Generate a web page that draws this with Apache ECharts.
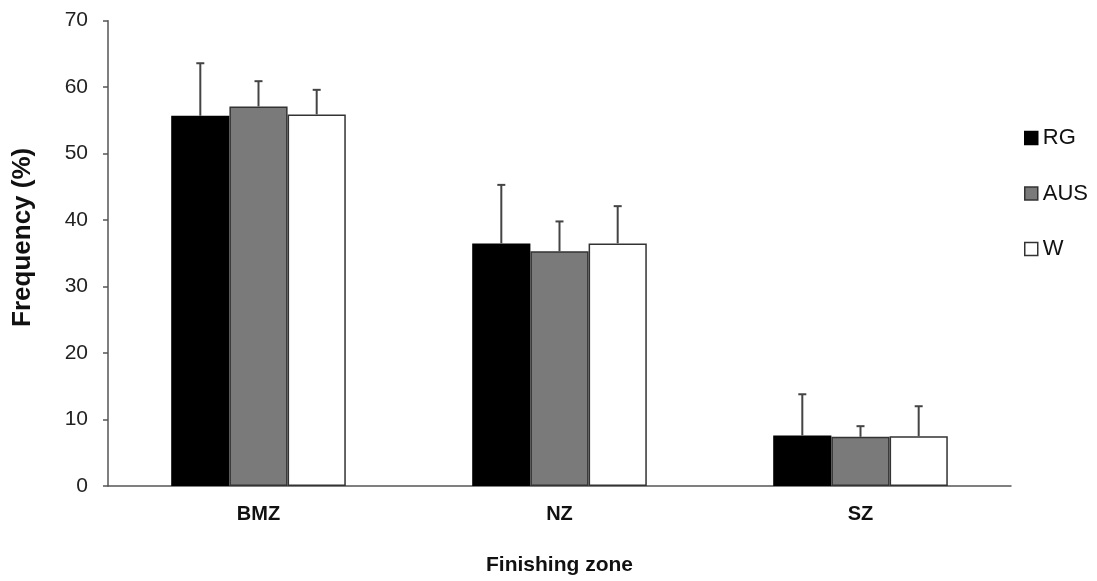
<!DOCTYPE html>
<html>
<head>
<meta charset="utf-8">
<script src="https://cdn.jsdelivr.net/npm/echarts@6/dist/echarts.min.js"></script>
<style>html,body{margin:0;padding:0;background:#fff}#c{width:1097px;height:581px}</style>
</head>
<body>
<div id="c"></div>
<script>
const categories = ['BMZ', 'NZ', 'SZ'];
const seriesNames = ['RG', 'AUS', 'W'];
const rgValues = [55.7, 36.5, 7.6];
const rgErrors = [63.6, 45.3, 13.8];
const ausValues = [57.1, 35.3, 7.4];
const ausErrors = [60.9, 39.8, 9.0];
const wValues = [55.9, 36.5, 7.5];
const wErrors = [59.6, 42.1, 12.0];
const yTicks = [0, 10, 20, 30, 40, 50, 60, 70];

const values = [rgValues, ausValues, wValues];
const errors = [rgErrors, ausErrors, wErrors];
const fills = ['#000000', '#7a7a7a', '#ffffff'];
const borders = ['#000000', '#333333', '#333333'];
const GAP = 0.42;

const chart = echarts.init(document.getElementById('c'), null, {renderer: 'canvas'});

const barSeries = seriesNames.map((n, i) => ({
  name: n,
  type: 'bar',
  data: values[i],
  barGap: '0%',
  barCategoryGap: (GAP * 100) + '%',
  itemStyle: {color: fills[i], borderColor: borders[i], borderWidth: 1.5},
  z: 2
}));

const errSeries = seriesNames.map((n, i) => ({
  name: n + '_err',
  type: 'custom',
  data: categories.map((c, k) => [k, values[i][k], errors[i][k]]),
  renderItem: function (params, api) {
    const k = api.value(0);
    const catW = api.size([1, 0])[0];
    const bw = catW * (1 - GAP) / 3;
    const base = api.coord([k, api.value(1)]);
    const top = api.coord([k, api.value(2)]);
    const x = base[0] + (i - 1) * bw;
    const cap = 4;
    const st = {stroke: '#444', lineWidth: 2};
    return {
      type: 'group',
      children: [
        {type: 'line', shape: {x1: x, y1: base[1], x2: x, y2: top[1]}, style: st},
        {type: 'line', shape: {x1: x - cap, y1: top[1], x2: x + cap, y2: top[1]}, style: st}
      ]
    };
  },
  z: 3,
  silent: true
}));

chart.setOption({
  backgroundColor: '#fff',
  animation: false,
  textStyle: {fontFamily: 'Liberation Sans, Arial, sans-serif'},
  grid: {left: 108, right: 86, top: 20.7, bottom: 94.3, containLabel: false},
  legend: {
    data: seriesNames.map((n, i) => ({name: n, itemStyle: {color: fills[i], borderColor: borders[i], borderWidth: 1.5}})),
    orient: 'vertical',
    left: 1019,
    top: 122,
    itemWidth: 13,
    itemHeight: 13,
    itemGap: 33.5,
    icon: 'rect',
    textStyle: {fontSize: 22, color: '#111', padding: [0, 0, 0, 0]}
  },
  xAxis: {
    type: 'category',
    data: categories,
    axisLine: {lineStyle: {color: '#555', width: 1.5}},
    axisTick: {show: false},
    axisLabel: {fontSize: 20, fontWeight: 'bold', color: '#111', margin: 18},
    name: 'Finishing zone',
    nameLocation: 'middle',
    nameGap: 69,
    nameTextStyle: {fontSize: 21, fontWeight: 'bold', color: '#111'}
  },
  yAxis: {
    type: 'value',
    min: 0,
    max: 70,
    interval: 10,
    splitLine: {show: false},
    axisLine: {show: true, lineStyle: {color: '#555', width: 1.5}},
    axisTick: {show: true, length: 5, lineStyle: {color: '#555', width: 1.5}},
    axisLabel: {fontSize: 21, color: '#222', margin: 20,
      formatter: v => yTicks.includes(v) ? String(v) : ''},
    name: 'Frequency (%)',
    nameLocation: 'middle',
    nameGap: 72,
    nameTextStyle: {fontSize: 26, fontWeight: 'bold', color: '#111', padding: [0, 0, 0, 32]}
  },
  series: [...barSeries, ...errSeries]
});
</script>
</body>
</html>
